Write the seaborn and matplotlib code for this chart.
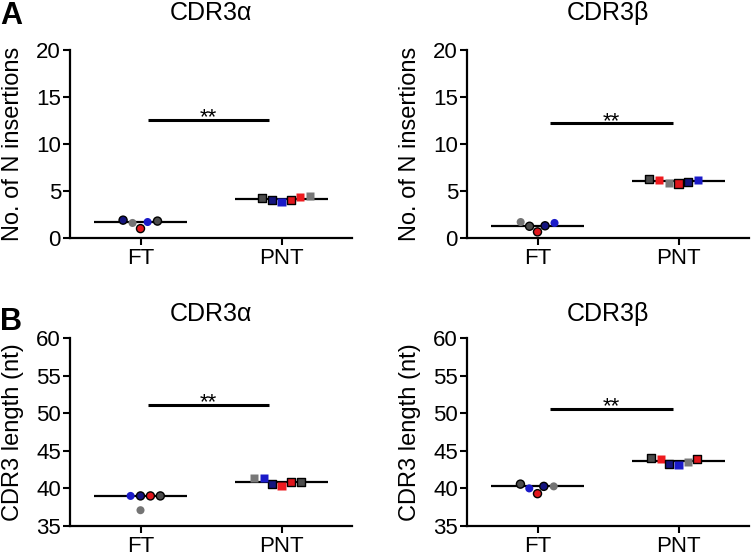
import numpy as np
import pandas as pd
import matplotlib
matplotlib.use('Agg')
import matplotlib.pyplot as plt
import seaborn as sns

# categories / animals
groups = ['FT', 'PNT']
ft_mice = ['FT1', 'FT2', 'FT3', 'FT4', 'FT5']
pnt_mice = ['PNT1', 'PNT2', 'PNT3', 'PNT4', 'PNT5', 'PNT6']
ft_colors = ['#14147e', '#1a1ac8', '#e0161c', '#747474', '#4c4c4c']
ft_edged = [True, False, True, False, True]
pnt_colors = ['#ee1a1e', '#14147e', '#1a1ac8', '#e0161c', '#4c4c4c', '#787878']
pnt_edged = [False, True, False, True, True, False]

# No. of N insertions
nins_alpha_ft = [1.9, 1.7, 1.0, 1.6, 1.8]
nins_alpha_pnt = [4.4, 4.0, 3.8, 4.0, 4.3, 4.5]
nins_beta_ft = [1.3, 1.6, 0.65, 1.7, 1.25]
nins_beta_pnt = [6.17, 5.96, 6.2, 5.8, 6.25, 5.9]

# CDR3 length (nt)
len_alpha_ft = [39.0, 39.0, 39.0, 37.1, 39.0]
len_alpha_pnt = [40.36, 40.6, 41.37, 40.8, 40.9, 41.4]
len_beta_ft = [40.27, 40.0, 39.3, 40.27, 40.57]
len_beta_pnt = [43.95, 43.2, 43.15, 43.95, 44.0, 43.46]

palette = dict(zip(ft_mice + pnt_mice, ft_colors + pnt_colors))

sns.set_style('ticks')
plt.rcParams['font.family'] = ['Liberation Sans', 'DejaVu Sans']
plt.rcParams['text.color'] = 'black'
plt.rcParams['axes.labelcolor'] = 'black'
plt.rcParams['xtick.color'] = 'black'
plt.rcParams['ytick.color'] = 'black'
plt.rcParams['axes.edgecolor'] = 'black'


def draw_panel(ax, ft_vals, pnt_vals, title, ylabel, ylim, yticks, sig_x, sig_y, title_pad):
    df = pd.DataFrame({
        'group': ['FT'] * len(ft_vals) + ['PNT'] * len(pnt_vals),
        'mouse': ft_mice + pnt_mice,
        'value': ft_vals + pnt_vals,
    })
    # median line
    sns.boxplot(data=df, x='group', y='value', order=groups, width=0.66,
                showbox=False, showcaps=False, showfliers=False,
                whiskerprops={'visible': False},
                medianprops={'color': 'black', 'linewidth': 1.6}, ax=ax)
    # individual animals
    for grp, marker, edged in [('FT', 'o', ft_edged), ('PNT', 's', pnt_edged)]:
        sub = df[df['group'] == grp]
        n_before = len(ax.collections)
        sns.swarmplot(data=sub, x='group', y='value', order=groups, hue='mouse',
                      palette=palette, marker=marker, size=5.8, linewidth=1,
                      legend=False, zorder=3, ax=ax)
        for coll in ax.collections[n_before:]:
            if len(coll.get_offsets()) == len(sub):
                coll.set_edgecolors([(0, 0, 0, 1) if e else (0, 0, 0, 0) for e in edged])

    # significance bar
    ax.plot(sig_x, [sig_y, sig_y], color='black', lw=2.2, solid_capstyle='butt')
    ax.annotate('**', xy=(np.mean(sig_x), sig_y), xytext=(0, -2.5),
                textcoords='offset points', ha='center', va='baseline', fontsize=16)

    ax.set_ylim(*ylim)
    ax.set_yticks(yticks)
    ax.set_xlim(-0.5, 1.5)
    ax.set_xlabel('')
    ax.set_ylabel(ylabel, fontsize=17, labelpad=9)
    ax.set_title(title, fontsize=18, pad=title_pad)
    ax.tick_params(axis='both', labelsize=16, length=5, width=1.5)
    ax.tick_params(axis='y', pad=1.5)
    ax.tick_params(axis='x', pad=2.5)
    for s in ['left', 'bottom']:
        ax.spines[s].set_linewidth(1.6)
    sns.despine(ax=ax)


fig = plt.figure(figsize=(7.51, 5.57), dpi=100)
W, H = 751, 557
ax_tl = fig.add_axes([70 / W, 1 - 238 / H, 282 / W, 188 / H])
ax_tr = fig.add_axes([467 / W, 1 - 238 / H, 282 / W, 188 / H])
ax_bl = fig.add_axes([70 / W, 1 - 526 / H, 282 / W, 188 / H])
ax_br = fig.add_axes([467 / W, 1 - 526 / H, 282 / W, 188 / H])

draw_panel(ax_tl, nins_alpha_ft, nins_alpha_pnt, 'CDR3α', 'No. of N insertions',
           (0, 20), [0, 5, 10, 15, 20], [0.05, 0.91], 12.6, 21.5)
draw_panel(ax_tr, nins_beta_ft, nins_beta_pnt, 'CDR3β', 'No. of N insertions',
           (0, 20), [0, 5, 10, 15, 20], [0.09, 0.96], 12.2, 21.5)
draw_panel(ax_bl, len_alpha_ft, len_alpha_pnt, 'CDR3α', 'CDR3 length (nt)',
           (35, 60), [35, 40, 45, 50, 55, 60], [0.05, 0.91], 51.1, 12)
draw_panel(ax_br, len_beta_ft, len_beta_pnt, 'CDR3β', 'CDR3 length (nt)',
           (35, 60), [35, 40, 45, 50, 55, 60], [0.09, 0.96], 50.6, 12)

fig.text(0.0, 1 - 1 / H, 'A', ha='left', va='top', fontsize=22, fontweight='bold')
fig.text(0.0, 1 - 307 / H, 'B', ha='left', va='top', fontsize=22, fontweight='bold')

fig.savefig('out.png', dpi=100)
